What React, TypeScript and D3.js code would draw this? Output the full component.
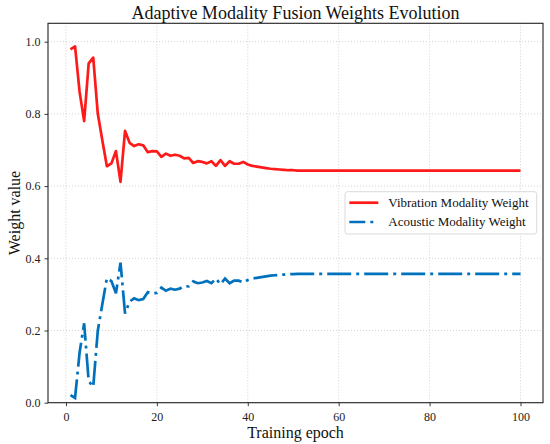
import { useEffect, useRef } from 'react';
import * as d3 from 'd3';

// Epoch axis values and read-off weights
const epochs = d3.range(1, 101);

const vibration = [
  0.979, 0.987, 0.861, 0.780, 0.940, 0.956, 0.801, 0.727, 0.655, 0.663,
  0.697, 0.612, 0.753, 0.720, 0.711, 0.716, 0.713, 0.694, 0.697, 0.696,
  0.681, 0.690, 0.684, 0.687, 0.684, 0.677, 0.678, 0.664, 0.669, 0.667,
  0.663, 0.669, 0.656, 0.672, 0.656, 0.669, 0.662, 0.662, 0.667, 0.660,
  0.656, 0.654, 0.652, 0.650, 0.648, 0.647, 0.646, 0.645, 0.644, 0.644,
  0.643, 0.643, 0.643, 0.643, 0.643, 0.643, 0.643, 0.643, 0.643, 0.643,
  0.643, 0.643, 0.643, 0.643, 0.643, 0.643, 0.643, 0.643, 0.643, 0.643,
  0.643, 0.643, 0.643, 0.643, 0.643, 0.643, 0.643, 0.643, 0.643, 0.643,
  0.643, 0.643, 0.643, 0.643, 0.643, 0.643, 0.643, 0.643, 0.643, 0.643,
  0.643, 0.643, 0.643, 0.643, 0.643, 0.643, 0.643, 0.643, 0.643, 0.643,
];

const acoustic = [
  0.021, 0.013, 0.139, 0.220, 0.060, 0.044, 0.199, 0.273, 0.345, 0.337,
  0.303, 0.388, 0.247, 0.280, 0.289, 0.284, 0.287, 0.306, 0.303, 0.304,
  0.319, 0.310, 0.316, 0.313, 0.316, 0.323, 0.322, 0.336, 0.331, 0.333,
  0.337, 0.331, 0.344, 0.328, 0.344, 0.331, 0.338, 0.338, 0.333, 0.340,
  0.344, 0.346, 0.348, 0.350, 0.352, 0.353, 0.354, 0.355, 0.356, 0.356,
  0.357, 0.357, 0.357, 0.357, 0.357, 0.357, 0.357, 0.357, 0.357, 0.357,
  0.357, 0.357, 0.357, 0.357, 0.357, 0.357, 0.357, 0.357, 0.357, 0.357,
  0.357, 0.357, 0.357, 0.357, 0.357, 0.357, 0.357, 0.357, 0.357, 0.357,
  0.357, 0.357, 0.357, 0.357, 0.357, 0.357, 0.357, 0.357, 0.357, 0.357,
  0.357, 0.357, 0.357, 0.357, 0.357, 0.357, 0.357, 0.357, 0.357, 0.357,
];

const xTicks = [0, 20, 40, 60, 80, 100];
const yTicks = [0.0, 0.2, 0.4, 0.6, 0.8, 1.0];

const seriesNames = ['Vibration Modality Weight', 'Acoustic Modality Weight'];

const RED = '#ff1a1a';
const BLUE = '#0072bd';
const FONT = '"Liberation Serif", "Times New Roman", serif';

export default function App() {
  const svgRef = useRef<SVGSVGElement>(null);
  const width = 550;
  const height = 444;

  useEffect(() => {
    if (!svgRef.current) return;
    const svg = d3.select(svgRef.current);
    svg.selectAll('*').remove();

    const margin = { top: 23.3, right: 7, bottom: 41.3, left: 48 };
    const innerWidth = width - margin.left - margin.right;
    const innerHeight = height - margin.top - margin.bottom;

    const x = d3.scaleLinear().domain([-3.95, 104.95]).range([0, innerWidth]);
    const y = d3.scaleLinear().domain([0, 1.051]).range([innerHeight, 0]);

    const g = svg
      .append('g')
      .attr('transform', `translate(${margin.left},${margin.top})`);

    // grid
    g.selectAll('.gx')
      .data(xTicks)
      .enter()
      .append('line')
      .attr('x1', (d) => x(d))
      .attr('x2', (d) => x(d))
      .attr('y1', 0)
      .attr('y2', innerHeight)
      .attr('stroke', '#c8c8c8')
      .attr('stroke-width', 0.8)
      .attr('stroke-dasharray', '1,2');

    g.selectAll('.gy')
      .data(yTicks)
      .enter()
      .append('line')
      .attr('x1', 0)
      .attr('x2', innerWidth)
      .attr('y1', (d) => y(d))
      .attr('y2', (d) => y(d))
      .attr('stroke', '#c8c8c8')
      .attr('stroke-width', 0.8)
      .attr('stroke-dasharray', '1,2');

    // lines
    const line = d3
      .line<number>()
      .x((_, i) => x(epochs[i]))
      .y((d) => y(d));

    g.append('path')
      .datum(vibration)
      .attr('d', line)
      .attr('fill', 'none')
      .attr('stroke', RED)
      .attr('stroke-width', 2.7)
      .attr('stroke-linejoin', 'round');

    g.append('path')
      .datum(acoustic)
      .attr('d', line)
      .attr('fill', 'none')
      .attr('stroke', BLUE)
      .attr('stroke-width', 2.7)
      .attr('stroke-dasharray', '24,5,3,5');

    // axes
    const xAxis = g
      .append('g')
      .attr('transform', `translate(0,${innerHeight})`)
      .call(d3.axisBottom(x).tickValues(xTicks).tickFormat(d3.format('d')).tickSizeOuter(0).tickSize(3.5));
    const yAxis = g
      .append('g')
      .call(d3.axisLeft(y).tickValues(yTicks).tickFormat(d3.format('.1f')).tickSizeOuter(0).tickSize(3.5));

    [xAxis, yAxis].forEach((a) => {
      a.select('.domain').remove();
      a.selectAll('line').attr('stroke', '#222').attr('stroke-width', 0.9);
      a.selectAll('text')
        .attr('fill', '#222')
        .attr('font-family', FONT)
        .attr('font-size', '12px');
    });
    xAxis.selectAll('text').attr('dy', '0.95em');
    yAxis.selectAll('text').attr('dx', '-1px');

    // frame
    g.append('rect')
      .attr('x', 0)
      .attr('y', 0)
      .attr('width', innerWidth)
      .attr('height', innerHeight)
      .attr('fill', 'none')
      .attr('stroke', '#222')
      .attr('stroke-width', 1.1);

    // title + labels
    svg
      .append('text')
      .attr('x', margin.left + innerWidth / 2)
      .attr('y', 18.5)
      .attr('text-anchor', 'middle')
      .attr('font-family', FONT)
      .attr('font-size', '18px')
      .attr('fill', '#111')
      .text('Adaptive Modality Fusion Weights Evolution');

    svg
      .append('text')
      .attr('x', margin.left + innerWidth / 2)
      .attr('y', 438)
      .attr('text-anchor', 'middle')
      .attr('font-family', FONT)
      .attr('font-size', '16px')
      .attr('fill', '#111')
      .text('Training epoch');

    svg
      .append('text')
      .attr('transform', `translate(20,${margin.top + innerHeight / 2}) rotate(-90)`)
      .attr('text-anchor', 'middle')
      .attr('font-family', FONT)
      .attr('font-size', '16px')
      .attr('fill', '#111')
      .text('Weight value');

    // legend
    const lg = svg.append('g').attr('transform', 'translate(345,191.7)');
    lg.append('rect')
      .attr('width', 191.7)
      .attr('height', 42.3)
      .attr('rx', 2.5)
      .attr('fill', 'white')
      .attr('fill-opacity', 0.85)
      .attr('stroke', '#d6d6d6')
      .attr('stroke-width', 0.9);

    const colors = [RED, BLUE];
    const dashes = [null, '16,5,3,5'];
    seriesNames.forEach((name, i) => {
      const cy = 11 + i * 19.3;
      lg.append('line')
        .attr('x1', 4.3)
        .attr('x2', 33.3)
        .attr('y1', cy)
        .attr('y2', cy)
        .attr('stroke', colors[i])
        .attr('stroke-width', 2.7)
        .attr('stroke-dasharray', dashes[i]);
      lg.append('text')
        .attr('x', 43.3)
        .attr('y', cy + 4.5)
        .attr('font-family', FONT)
        .attr('font-size', '13px')
        .attr('fill', '#111')
        .text(name);
    });
  }, []);

  return (
    <svg
      ref={svgRef}
      width={width}
      height={height}
      style={{ position: 'absolute', left: 0, top: 0, background: 'white' }}
    />
  );
}
